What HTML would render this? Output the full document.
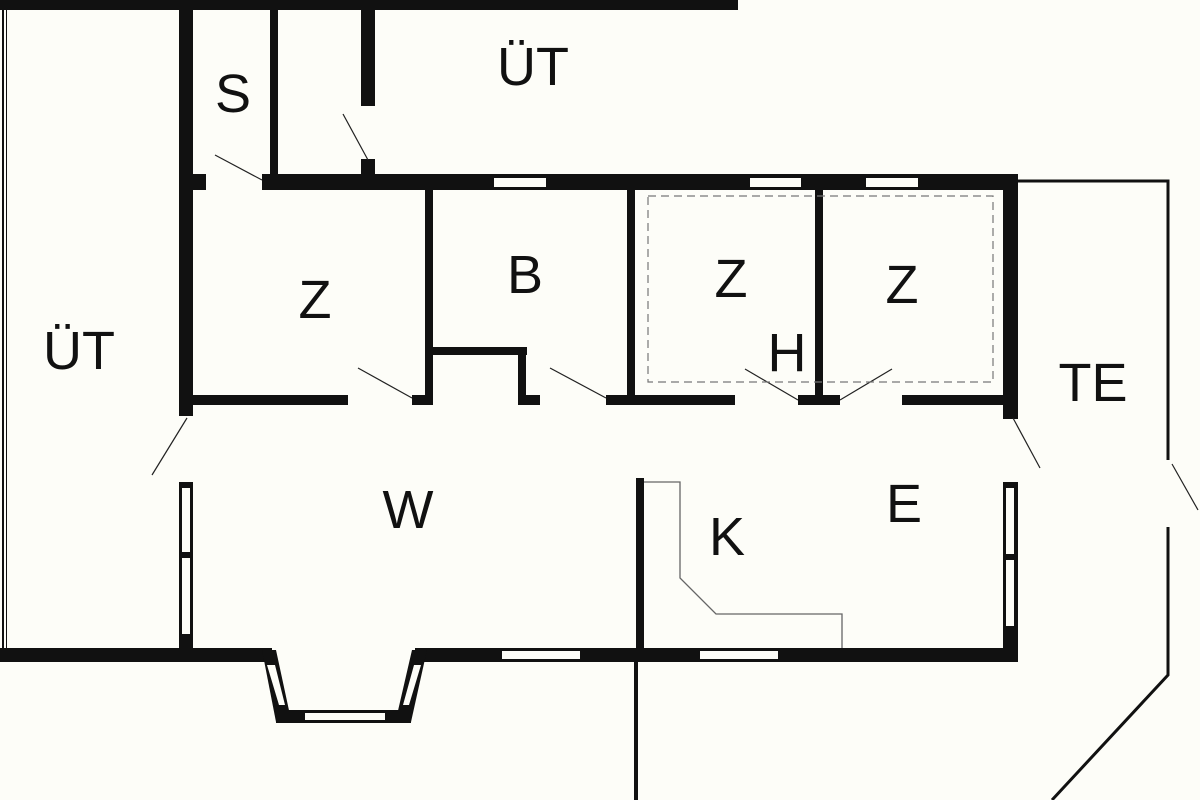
<!DOCTYPE html>
<html><head><meta charset="utf-8"><style>
html,body{margin:0;padding:0;background:#fdfdf8;}
svg{display:block}
text{font-family:"Liberation Sans",sans-serif;font-size:54px;fill:#111;text-anchor:middle}
</style></head><body>
<svg width="1200" height="800" viewBox="0 0 1200 800" xmlns="http://www.w3.org/2000/svg">
<rect width="1200" height="800" fill="#fdfdf8"/>
<g fill="#111">
<rect x="0" y="0" width="738" height="10"/>
<rect x="179" y="0" width="14" height="416"/>
<rect x="179" y="482" width="14" height="180"/>
<rect x="270" y="0" width="8" height="180"/>
<rect x="361" y="0" width="14" height="106"/>
<rect x="361" y="159" width="14" height="20"/>
<rect x="262" y="174" width="756" height="16"/>
<rect x="193" y="174" width="13" height="16"/>
<rect x="425" y="180" width="8" height="225"/>
<rect x="627" y="180" width="8" height="225"/>
<rect x="815" y="180" width="8" height="225"/>
<rect x="1003" y="174" width="15" height="245"/>
<rect x="193" y="395" width="155" height="10"/>
<rect x="412" y="395" width="20" height="10"/>
<rect x="432" y="347" width="95" height="8"/>
<rect x="518" y="347" width="8" height="58"/>
<rect x="518" y="395" width="22" height="10"/>
<rect x="606" y="395" width="129" height="10"/>
<rect x="798" y="395" width="42" height="10"/>
<rect x="902" y="395" width="101" height="10"/>
<rect x="1003" y="482" width="15" height="180"/>
<rect x="0" y="648" width="272" height="14"/>
<rect x="415" y="648" width="603" height="14"/>
<rect x="636" y="478" width="8" height="180"/>
<rect x="634" y="660" width="4" height="140"/>
<rect x="2" y="10" width="2" height="640"/>
<rect x="6" y="10" width="1" height="640"/>
</g>
<!-- windows -->
<g fill="#fdfdf8">
<rect x="494" y="178" width="52" height="9"/>
<rect x="750" y="178" width="51" height="9"/>
<rect x="866" y="178" width="52" height="9"/>
<rect x="502" y="651" width="78" height="8"/>
<rect x="700" y="651" width="78" height="8"/>
<rect x="182" y="488" width="8" height="64"/>
<rect x="182" y="558" width="8" height="76"/>
<rect x="1006" y="488" width="8" height="66"/>
<rect x="1006" y="560" width="8" height="66"/>
</g>
<!-- bay -->
<polygon points="262,650 276,650 290,715 276,722" fill="#111"/>
<polygon points="412,650 427,650 411,722 397,715" fill="#111"/>
<rect x="276" y="710" width="135" height="13" fill="#111"/>
<rect x="305" y="713" width="80" height="7" fill="#fdfdf8"/>
<polygon points="267,665 275,665 285,705 279,705" fill="#fdfdf8"/>
<polygon points="414,665 421,665 409,705 403,705" fill="#fdfdf8"/>
<!-- TE outline -->
<g stroke="#111" stroke-width="3" fill="none">
<polyline points="1018,181 1168,181 1168,460"/>
<polyline points="1168,527 1168,675 1052,800"/>
</g>
<!-- door swings -->
<g stroke="#222" stroke-width="1.2">
<line x1="358" y1="368" x2="412" y2="398"/>
<line x1="550" y1="368" x2="606" y2="398"/>
<line x1="745" y1="369" x2="798" y2="400"/>
<line x1="892" y1="369" x2="840" y2="400"/>
<line x1="1013" y1="418" x2="1040" y2="468"/>
<line x1="187" y1="418" x2="152" y2="475"/>
<line x1="215" y1="155" x2="262" y2="180"/>
<line x1="343" y1="114" x2="368" y2="160"/>
<line x1="1172" y1="464" x2="1198" y2="510"/>
</g>
<rect x="648" y="196" width="345" height="186" fill="none" stroke="#777" stroke-width="1.2" stroke-dasharray="8,5"/>
<polyline points="644,482 680,482 680,578 716,614 842,614 842,648" fill="none" stroke="#666" stroke-width="1.3"/>
<text x="533" y="85">ÜT</text>
<text x="233" y="112">S</text>
<text x="315" y="318">Z</text>
<text x="525" y="293">B</text>
<text x="731" y="297">Z</text>
<text x="902" y="303">Z</text>
<text x="787" y="371">H</text>
<text x="1093" y="401">TE</text>
<text x="79" y="369">ÜT</text>
<text x="408" y="528">W</text>
<text x="904" y="522">E</text>
<text x="727" y="555">K</text>
</svg>
</body></html>
